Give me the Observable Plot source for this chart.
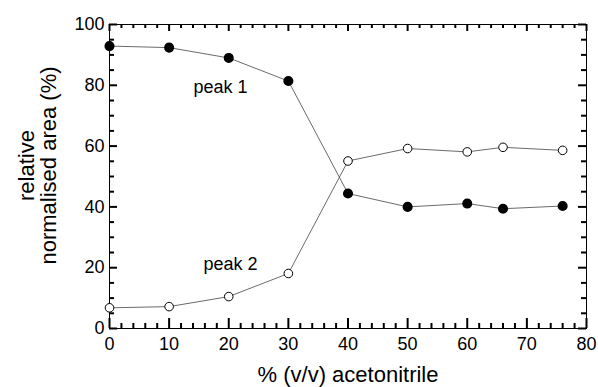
<!DOCTYPE html>
<html>
<head>
<meta charset="utf-8">
<script src="https://cdn.jsdelivr.net/npm/d3@7"></script>
<script src="https://cdn.jsdelivr.net/npm/@observablehq/plot@0.6"></script>
<style>
  html, body { margin: 0; padding: 0; background: #fff; }
</style>
</head>
<body>
<div id="chart"></div>
<script>
const acetonitrile = [0, 10, 20, 30, 40, 50, 60, 66, 76];
const peak1 = [92.9, 92.4, 89.0, 81.4, 44.4, 40.0, 41.1, 39.4, 40.3];
const peak2 = [6.8, 7.2, 10.5, 18.1, 55.1, 59.2, 58.1, 59.6, 58.6];
const xMajorTicks = [0, 10, 20, 30, 40, 50, 60, 70, 80];
const yMajorTicks = [0, 20, 40, 60, 80, 100];
const xLabel = "% (v/v) acetonitrile";
const yLabel = "relative\nnormalised area (%)";
const seriesLabels = [
  {text: "peak 1", x: 18.6, y: 79.3},
  {text: "peak 2", x: 20.3, y: 21}
];

const xMinor = d3.range(0, 81, 2).filter(v => v % 10 !== 0);
const yMinor = d3.range(0, 101, 5).filter(v => v % 20 !== 0);

const p1 = acetonitrile.map((x, i) => ({x, y: peak1[i]}));
const p2 = acetonitrile.map((x, i) => ({x, y: peak2[i]}));

const W = 598, H = 387, ML = 109, MR = 12, MT = 24, MB = 59;
const innerW = W - ML - MR, innerH = H - MT - MB;
const tk = {stroke: "black", strokeWidth: 2};

const chart = Plot.plot({
  width: W,
  height: H,
  marginLeft: ML,
  marginRight: MR,
  marginTop: MT,
  marginBottom: MB,
  style: "font-family: 'Liberation Sans', Arial, sans-serif;",
  x: {domain: [0, 80], label: null, axis: null},
  y: {domain: [0, 100], label: null, axis: null},
  marks: [
    Plot.frame({stroke: "black", strokeWidth: 1}),
    // inward ticks on all four sides
    Plot.tickX(xMajorTicks, {x: d => d, insetTop: innerH - 10, ...tk}),
    Plot.tickX(xMinor, {x: d => d, insetTop: innerH - 5, ...tk}),
    Plot.tickX(xMajorTicks, {x: d => d, insetBottom: innerH - 7, ...tk}),
    Plot.tickX(xMinor, {x: d => d, insetBottom: innerH - 4, ...tk}),
    Plot.tickY(yMajorTicks, {y: d => d, insetRight: innerW - 8, ...tk}),
    Plot.tickY(yMinor, {y: d => d, insetRight: innerW - 5, ...tk}),
    Plot.tickY(yMajorTicks, {y: d => d, insetLeft: innerW - 8, ...tk}),
    Plot.tickY(yMinor, {y: d => d, insetLeft: innerW - 5, ...tk}),
    // tick labels
    Plot.axisX(xMajorTicks, {anchor: "bottom", tickSize: 0, tickPadding: 9, fontSize: 18, fill: "#000", label: null}),
    Plot.axisY(yMajorTicks, {anchor: "left", tickSize: 0, tickPadding: 5, fontSize: 18, fill: "#000", label: null}),
    // axis titles
    Plot.text([xLabel], {frameAnchor: "bottom", dy: 46, fontSize: 22, fill: "#000", textAnchor: "middle", lineAnchor: "middle", letterSpacing: "0.6px"}),
    Plot.text([yLabel], {frameAnchor: "left", dx: -72, dy: -11, rotate: -90, fontSize: 22, lineHeight: 1.0, textAnchor: "middle", lineAnchor: "middle", fill: "#000"}),
    // series
    Plot.line(p1, {x: "x", y: "y", stroke: "#444", strokeWidth: 0.8}),
    Plot.line(p2, {x: "x", y: "y", stroke: "#444", strokeWidth: 0.8}),
    Plot.dot(p1, {x: "x", y: "y", r: 4.3, fill: "#000", stroke: "#000"}),
    Plot.dot(p2, {x: "x", y: "y", r: 4.3, fill: "#fff", stroke: "#000", strokeWidth: 1}),
    Plot.text(seriesLabels, {x: "x", y: "y", text: "text", fontSize: 18, fill: "#000"})
  ]
});

document.getElementById("chart").appendChild(chart);
</script>
</body>
</html>
